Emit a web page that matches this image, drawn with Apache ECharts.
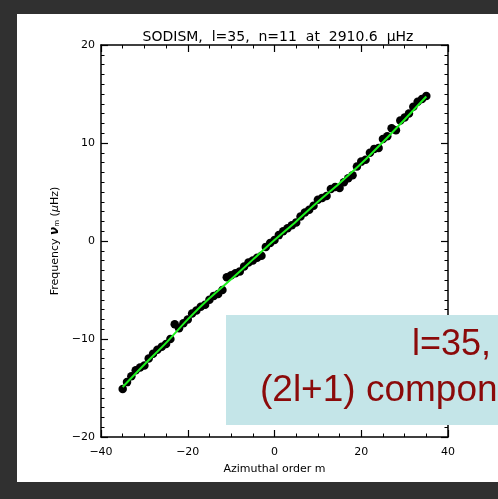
<!DOCTYPE html>
<html>
<head>
<meta charset="utf-8">
<script src="https://cdn.jsdelivr.net/npm/echarts@6/dist/echarts.min.js"></script>
<style>
html,body{margin:0;padding:0;background:#303030;width:498px;height:499px;overflow:hidden;}
#paper{position:absolute;left:17px;top:14px;width:481px;height:468px;background:#ffffff;}
#chart{position:absolute;left:0;top:0;width:498px;height:499px;}
</style>
</head>
<body>
<div id="paper"></div>
<div id="chart"></div>
<script>
// Azimuthal order m and measured frequencies (μHz)
const mValues = [-35,-34,-33,-32,-31,-30,-29,-28,-27,-26,-25,-24,-23,-22,-21,-20,-19,-18,-17,-16,-15,-14,-13,-12,-11,-10,-9,-8,-7,-6,-5,-4,-3,-2,-1,0,1,2,3,4,5,6,7,8,9,10,11,12,13,14,15,16,17,18,19,20,21,22,23,24,25,26,27,28,29,30,31,32,33,34,35];
const freqValues = [-15.1,-14.4,-13.8,-13.2,-12.9,-12.7,-12.0,-11.5,-11.1,-10.8,-10.5,-10.0,-8.5,-8.9,-8.4,-8.0,-7.4,-7.1,-6.7,-6.5,-6.0,-5.6,-5.4,-5.0,-3.7,-3.5,-3.3,-3.1,-2.6,-2.2,-2.0,-1.7,-1.5,-0.6,-0.2,0.1,0.6,1.0,1.3,1.6,1.9,2.5,2.9,3.2,3.6,4.2,4.4,4.6,5.3,5.5,5.4,6.0,6.4,6.7,7.6,8.1,8.3,9.0,9.4,9.5,10.4,10.7,11.5,11.3,12.3,12.6,13.0,13.7,14.2,14.5,14.8];
// Fitted curve (green)
const fitM = [-35,-30,-25,-20,-15,-10,-5,0,5,10,15,20,25,30,35];
const fitV = [-14.9,-12.6,-10.4,-8.0,-5.85,-3.9,-1.9,0.1,2.0,4.0,5.9,7.9,10.1,12.4,14.75];
// Axis ticks
const xTicks = [-40,-20,0,20,40];
const yTicks = [-20,-10,0,10,20];

const titleText = 'SODISM,  l=35,  n=11  at  2910.6  \u03bcHz';
const xName = 'Azimuthal order m';
const boxLine1 = 'l=35,';
const boxLine2 = '(2l+1) components';

const chart = echarts.init(document.getElementById('chart'), null, {renderer:'canvas'});
const font = 'DejaVu Sans';
const minus = v => String(v).replace('-', '\u2212');

const axisCommon = {
  axisLine:{show:true, onZero:false, lineStyle:{color:'#000', width:1.5}},
  axisTick:{show:true, inside:true, length:7, lineStyle:{color:'#000', width:1.2}},
  minorTick:{show:true, length:3.5, lineStyle:{color:'#000', width:1}},
  splitLine:{show:false},
  minorSplitLine:{show:false}
};

chart.setOption({
  backgroundColor:'transparent',
  animation:false,
  title:{
    text:titleText, left:273, top:25, textAlign:'center',
    textStyle:{fontFamily:font, fontSize:14, fontWeight:'normal', color:'#000'}
  },
  grid:{left:101, right:50, top:45, bottom:62, containLabel:false},
  xAxis:[
    Object.assign({}, axisCommon, {
      type:'value', min:xTicks[0], max:xTicks[xTicks.length-1], interval:20,
      position:'bottom',
      minorTick:Object.assign({}, axisCommon.minorTick, {splitNumber:4}),
      axisLabel:{fontFamily:font, fontSize:11, color:'#000', margin:10, formatter:minus},
      name:xName, nameLocation:'middle', nameGap:27,
      nameTextStyle:{fontFamily:font, fontSize:11, color:'#000'}
    }),
    Object.assign({}, axisCommon, {
      type:'value', min:xTicks[0], max:xTicks[xTicks.length-1], interval:20,
      position:'top',
      minorTick:Object.assign({}, axisCommon.minorTick, {splitNumber:4}),
      axisLabel:{show:false}
    })
  ],
  yAxis:[
    Object.assign({}, axisCommon, {
      type:'value', min:yTicks[0], max:yTicks[yTicks.length-1], interval:10,
      position:'left',
      minorTick:Object.assign({}, axisCommon.minorTick, {splitNumber:10}),
      axisLabel:{fontFamily:font, fontSize:11, color:'#000', margin:6, formatter:minus},
      name:'{a|Frequency }{nu|\u03bd}{sub|m}{a| (}{mu|\u03bc}{a|Hz)}',
      nameLocation:'middle', nameGap:32, nameRotate:90,
      nameTextStyle:{
        rich:{
          a:{fontFamily:font, fontSize:11, color:'#000'},
          nu:{fontFamily:font, fontSize:12, fontWeight:'bold', fontStyle:'italic', color:'#000'},
          sub:{fontFamily:font, fontSize:7, color:'#000', verticalAlign:'bottom', padding:[4,0,0,0]},
          mu:{fontFamily:font, fontSize:11, fontStyle:'italic', color:'#000'}
        }
      }
    }),
    Object.assign({}, axisCommon, {
      type:'value', min:yTicks[0], max:yTicks[yTicks.length-1], interval:10,
      position:'right',
      minorTick:Object.assign({}, axisCommon.minorTick, {splitNumber:10}),
      axisLabel:{show:false}
    })
  ],
  series:[
    {
      type:'scatter', xAxisIndex:0, yAxisIndex:0,
      data:mValues.map((m,i)=>[m, freqValues[i]]),
      symbol:'circle', symbolSize:8.5,
      itemStyle:{color:'#000', opacity:1}, z:2
    },
    {
      type:'line', xAxisIndex:0, yAxisIndex:0,
      data:fitM.map((m,i)=>[m, fitV[i]]),
      smooth:0.3, showSymbol:false, symbol:'none',
      lineStyle:{color:'#1ef01e', width:2}, z:3
    }
  ],
  graphic:[
    {type:'rect', z:100, shape:{x:226, y:315, width:272, height:110}, style:{fill:'#c4e5e8'}},
    {type:'text', z:101, left:412, top:327, style:{text:boxLine1, font:'36px "Liberation Sans", Arial, sans-serif', fill:'#8b0a0a'}},
    {type:'text', z:101, left:260, top:372, style:{text:boxLine2, font:'37px "Liberation Sans", Arial, sans-serif', fill:'#8b0a0a'}}
  ]
});
</script>
</body>
</html>
